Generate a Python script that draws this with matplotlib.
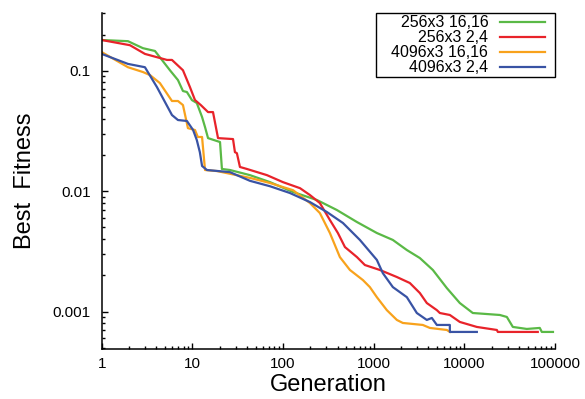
#!/usr/bin/env python
# -*- coding: utf-8 -*-

import matplotlib
matplotlib.use("Agg")
import matplotlib.pyplot as plt
from matplotlib.patches import Rectangle
from matplotlib.ticker import FixedLocator, FixedFormatter, LogLocator, NullFormatter

# Globals and constants variables.
labels = ["256x3 16,16", "256x3 2,4", "4096x3 16,16", "4096x3 2,4"]
colors = ["#5ab946", "#e8232a", "#f8a21c", "#3953a4"]

green_generations = [1, 1.95, 2.85, 3.87, 5.66, 6.94, 7.88, 8.71, 9.9, 11.2, 12.8, 13.8, 14.9,
                     17.3, 20.2, 21.2, 26.0, 43.2, 71.8, 129, 237, 393, 654, 1084, 1628, 2322,
                     3229, 4496, 6415, 8916, 12400, 24650, 29450, 34290, 48890, 67950, 71550, 95000]
green_fitness = [0.180, 0.176, 0.154, 0.146, 0.101, 0.0837, 0.0679, 0.0666, 0.0571, 0.0540,
                 0.0413, 0.0341, 0.0276, 0.0266, 0.0256, 0.0153, 0.0150, 0.0136, 0.0119, 0.00985,
                 0.00845, 0.00698, 0.00555, 0.00450, 0.00394, 0.00325, 0.00279, 0.00222, 0.00157,
                 0.00118, 0.000975, 0.000939, 0.000904, 0.000747, 0.000719, 0.000733, 0.000679,
                 0.000679]

red_generations = [1, 2.05, 3.0, 5.25, 5.96, 7.88, 9.41, 10.7, 12.4, 14.9, 16.9, 19.2, 28.1,
                   29.5, 31.0, 33.5, 40.0, 66.5, 99.8, 154, 198, 255, 329, 403, 482, 654, 800,
                   1170, 1802, 2506, 3229, 3856, 4977, 5370, 6923, 8916, 13740, 22840, 23420,
                   64580]
red_fitness = [0.180, 0.163, 0.138, 0.123, 0.123, 0.101, 0.0732, 0.0571, 0.0519, 0.0454, 0.0454,
               0.0276, 0.0271, 0.0211, 0.0207, 0.0159, 0.0153, 0.0136, 0.0119, 0.0106, 0.00930,
               0.00798, 0.00577, 0.00450, 0.00344, 0.00284, 0.00244, 0.00222, 0.00194, 0.00173,
               0.00143, 0.00118, 0.00103, 0.000975, 0.000939, 0.000822, 0.000747, 0.000705,
               0.000679, 0.000679]

orange_generations = [1, 1.95, 2.85, 3.41, 4.39, 5.96, 6.94, 7.88, 8.94, 10.7, 11.5, 12.8, 13.8,
                      18.7, 43.2, 71.8, 129, 198, 255, 329, 424, 547, 761, 908, 1084, 1397,
                      1802, 2097, 3484, 4166, 6415, 6923]
orange_fitness = [0.143, 0.107, 0.0976, 0.0921, 0.0790, 0.0561, 0.0561, 0.0519, 0.0334, 0.0322,
                  0.0282, 0.0282, 0.0150, 0.0147, 0.0129, 0.0117, 0.0102, 0.00798, 0.00659,
                  0.00450, 0.00284, 0.00222, 0.00183, 0.00160, 0.00132, 0.00103, 0.000854,
                  0.000806, 0.000776, 0.000733, 0.000705, 0.000679]

blue_generations = [1, 1.95, 3.0, 4.07, 5.96, 6.94, 8.71, 10.2, 11.2, 12.1, 12.8, 14.5, 26.0,
                    43.2, 71.8, 119, 198, 305, 458, 705, 1084, 1262, 1628, 2322, 2993, 3856,
                    4383, 4977, 6923, 6923, 13740]
blue_fitness = [0.138, 0.114, 0.107, 0.0732, 0.0429, 0.0390, 0.0383, 0.0322, 0.0266, 0.0211,
                0.0162, 0.0150, 0.0144, 0.0122, 0.0110, 0.00967, 0.00813, 0.00672, 0.00545,
                0.00394, 0.00269, 0.00209, 0.00160, 0.00132, 0.000975, 0.000854, 0.000887,
                0.000776, 0.000776, 0.000679, 0.000679]

x_ticks = [1, 10, 100, 1000, 10000, 100000]
x_tick_labels = ["1", "10", "100", "1000", "10000", "100000"]
y_ticks = [0.001, 0.01, 0.1]
y_tick_labels = ["0.001", "0.01", "0.1"]

plt.rcParams['font.family'] = ['Liberation Sans', 'DejaVu Sans']

fig = plt.figure(figsize=(5.85, 3.99), dpi=100)
ax = fig.add_axes([0.1738, 0.1253, 0.9487 - 0.1738, 0.968 - 0.1253])

series = [(green_generations, green_fitness),
          (red_generations, red_fitness),
          (orange_generations, orange_fitness),
          (blue_generations, blue_fitness)]
for (generations, fitness), label, color in zip(series, labels, colors):
    ax.plot(generations, fitness, '-', color=color, lw=1.6, label=label)

ax.set_xscale('log')
ax.set_yscale('log')
ax.set_xlim(1, 100000)
ax.set_ylim(0.00049, 0.303)

ax.xaxis.set_major_locator(FixedLocator(x_ticks))
ax.xaxis.set_major_formatter(FixedFormatter(x_tick_labels))
ax.yaxis.set_major_locator(FixedLocator(y_ticks))
ax.yaxis.set_major_formatter(FixedFormatter(y_tick_labels))
ax.xaxis.set_minor_locator(LogLocator(base=10, subs=range(2, 10), numticks=20))
ax.yaxis.set_minor_locator(LogLocator(base=10, subs=range(2, 10), numticks=20))
ax.xaxis.set_minor_formatter(NullFormatter())
ax.yaxis.set_minor_formatter(NullFormatter())

ax.tick_params(which='both', direction='in', width=1.0, labelsize=11)
ax.tick_params(which='major', length=4)
ax.tick_params(which='minor', length=2.2)
ax.tick_params(axis='x', pad=6)
ax.tick_params(axis='y', pad=8)

for side in ['top', 'right']:
    ax.spines[side].set_visible(False)
for side in ['left', 'bottom']:
    ax.spines[side].set_linewidth(1.1)

ax.set_xlabel("Generation", fontsize=17, labelpad=2)
ax.set_ylabel("Best  Fitness", fontsize=17)
ax.yaxis.set_label_coords(-0.145, 0.5)

# legend without its own frame, box drawn separately (wider left margin)
legend = ax.legend(loc='upper right', bbox_to_anchor=(0.978, 0.993), borderaxespad=0.0,
                   markerfirst=False, frameon=False, fontsize=11.5, handlelength=2.8,
                   handletextpad=0.75, borderpad=0.0, labelspacing=0.0)
legend.set_zorder(6)
ax.add_patch(Rectangle((0.605, 0.809), 0.395, 0.19, transform=ax.transAxes,
                       facecolor='white', edgecolor='black', lw=1.0, zorder=5,
                       clip_on=False))

fig.savefig("out.png", dpi=100)
